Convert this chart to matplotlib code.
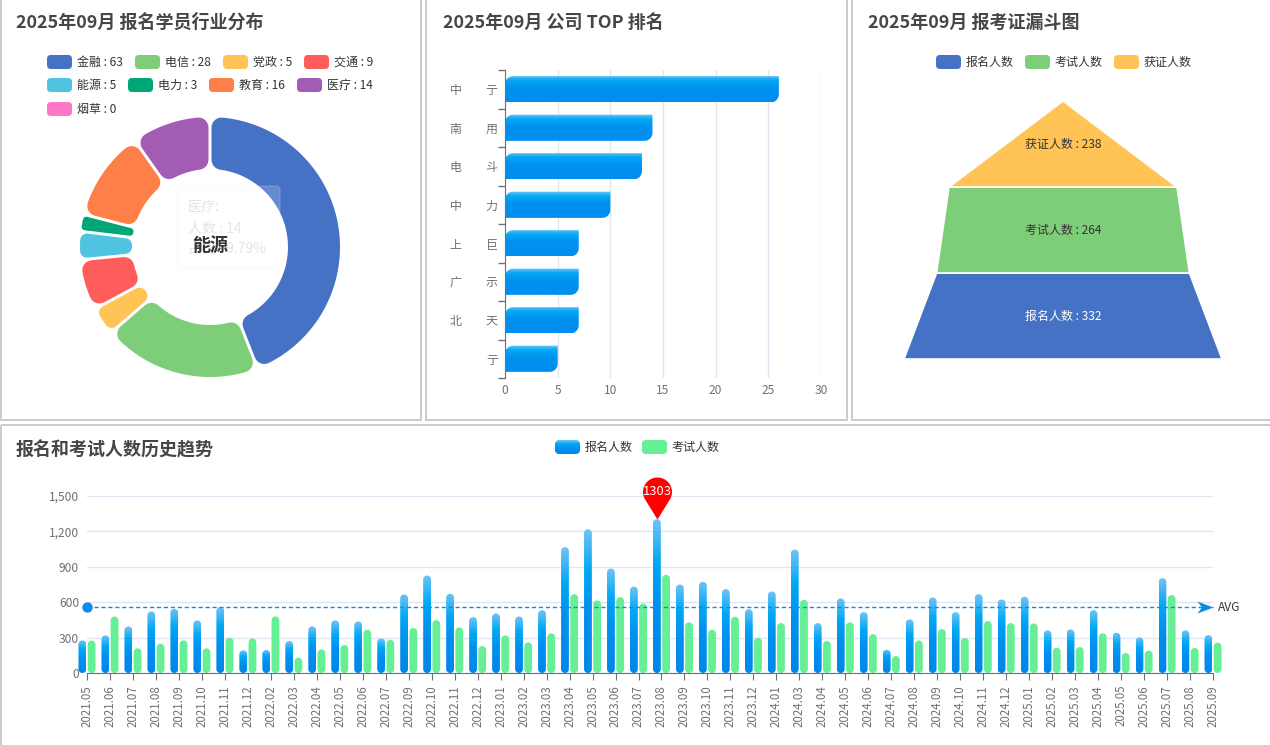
"""Dashboard: 行业分布环形图 + 公司 TOP 排名 + 报考证漏斗 + 历史趋势柱状图."""
import numpy as np
import matplotlib
matplotlib.use("Agg")
import matplotlib.pyplot as plt  # noqa: E402
from matplotlib.patches import Polygon, Rectangle, FancyBboxPatch  # noqa: E402
from matplotlib.path import Path  # noqa: E402
from matplotlib.colors import LinearSegmentedColormap  # noqa: E402
from matplotlib.ticker import FuncFormatter, MultipleLocator  # noqa: E402

plt.rcParams["font.family"] = ["Noto Sans CJK SC", "DejaVu Sans"]

# ---------------- data ----------------
INDUSTRIES = ["金融", "电信", "党政", "交通", "能源", "电力", "教育", "医疗", "烟草"]
INDUSTRY_COUNTS = [63, 28, 5, 9, 5, 3, 16, 14, 0]
INDUSTRY_COLORS = ["#4672c6", "#7ecd78", "#ffc455", "#ff5c5c", "#4ec4e0",
                   "#00a676", "#ff7f48", "#a35cb3", "#ff78c8"]

COMPANY_LABELS = ["中\u3000\u3000亍", "南\u3000\u3000用", "电\u3000\u3000斗", "中\u3000\u3000力",
                  "上\u3000\u3000巨", "广\u3000\u3000示", "北\u3000\u3000天", "亍"]
COMPANY_COUNTS = [26, 14, 13, 10, 7, 7, 7, 5]

FUNNEL_STAGES = ["报名人数", "考试人数", "获证人数"]
FUNNEL_COUNTS = [332, 264, 238]

MONTHS = ["2021.05", "2021.06", "2021.07", "2021.08", "2021.09", "2021.10", "2021.11", "2021.12",
          "2022.02", "2022.03", "2022.04", "2022.05", "2022.06", "2022.07",
          "2022.09", "2022.10", "2022.11", "2022.12",
          "2023.01", "2023.02", "2023.03", "2023.04", "2023.05", "2023.06",
          "2023.07", "2023.08", "2023.09", "2023.10", "2023.11", "2023.12",
          "2024.01", "2024.03", "2024.04", "2024.05", "2024.06", "2024.07",
          "2024.08", "2024.09", "2024.10", "2024.11", "2024.12",
          "2025.01", "2025.02", "2025.03", "2025.04", "2025.05", "2025.06",
          "2025.07", "2025.08", "2025.09"]
SIGNUPS = [276, 319, 395, 522, 544, 446, 558, 192,
           195, 271, 395, 446, 437, 293,
           666, 826, 671, 474,
           505, 479, 533, 1066, 1218, 885, 733, 1303, 750, 773, 711, 541,
           691, 1046, 423, 632, 516, 197, 454, 640, 516, 668, 623,
           646, 361, 369, 533, 341, 302, 804, 361, 321]
EXAMS = [275, 479, 209, 248, 276, 209, 299, 293,
         479, 130, 200, 237, 367, 282,
         381, 448, 386, 228,
         319, 259, 336, 668, 615, 643, 589, 832, 429, 367, 477, 299,
         423, 620, 271, 429, 330, 144, 276, 372, 296, 440, 423,
         420, 214, 220, 336, 169, 189, 660, 212, 257]

# ---------------- style ----------------
W, H, DPI = 1270, 745, 100
PT = 72 / DPI                     # points per pixel
TITLE_C = "#464646"
TEXT_C = "#333333"
AXIS_C = "#6e7079"
GRID_C = "#e0e6f1"
BORDER_C = "#cccccc"
BLUE_CMAP = LinearSegmentedColormap.from_list(
    "bluebar", [(0, "#0086ea"), (0.45, "#0091ef"), (0.72, "#00a8f5"), (1, "#70c3f6")])
HBAR_CMAP = LinearSegmentedColormap.from_list(
    "hbar", [(0, "#008def"), (0.55, "#0092ef"), (0.82, "#04a9f5"), (1, "#6ec8f8")])
GREEN = "#67ef96"
MARK_BLUE = "#0e8be9"

fig = plt.figure(figsize=(W / DPI, H / DPI), dpi=DPI)


def add_ax(x0, y0, x1, y1):
    return fig.add_axes([x0 / W, 1 - y1 / H, (x1 - x0) / W, (y1 - y0) / H])


def rrect(x0, y0, x1, y1, rx, ry, corners=(True, True, True, True), n=10):
    """Rounded rectangle points; corners = (bottom-left, bottom-right, top-right, top-left)."""
    specs = [((x0 + rx, y0 + ry), 180, 270, (x0, y0)),
             ((x1 - rx, y0 + ry), 270, 360, (x1, y0)),
             ((x1 - rx, y1 - ry), 0, 90, (x1, y1)),
             ((x0 + rx, y1 - ry), 90, 180, (x0, y1))]
    pts = []
    for on, (c, a0, a1, sq) in zip(corners, specs):
        if on:
            t = np.radians(np.linspace(a0, a1, n))
            pts += list(zip(c[0] + rx * np.cos(t), c[1] + ry * np.sin(t)))
        else:
            pts.append(sq)
    return np.array(pts)


def gradient_patch(ax, pts, extent, cmap, zorder=2):
    patch = Polygon(pts, closed=True, fc="none", ec="none", zorder=zorder, clip_on=False)
    ax.add_patch(patch)
    grad = np.linspace(0, 1, 128).reshape(-1, 1)
    im = ax.imshow(grad, extent=extent, origin="lower", cmap=cmap, aspect="auto",
                   interpolation="bilinear", zorder=zorder)
    im.set_clip_path(patch)
    im.set_clip_box(fig.bbox)
    return patch


# ---------------- background: borders, titles, legends ----------------
bg = fig.add_axes([0, 0, 1, 1])
bg.set_xlim(0, W)
bg.set_ylim(H, 0)
bg.axis("off")
for (x0, y0, x1, y1) in [(0.7, -10, 421, 420), (426, -10, 847, 420),
                         (852, -10, 1290, 420), (0.7, 425, 1290, 760)]:
    bg.add_patch(Rectangle((x0, y0), x1 - x0, y1 - y0, fill=False, ec=BORDER_C, lw=2 * PT))

title_kw = dict(fontsize=18 * PT, fontweight="bold", color=TITLE_C, va="center", ha="left")
bg.text(16, 23, "2025年09月 报名学员行业分布", **title_kw)
bg.text(443, 23, "2025年09月 公司 TOP 排名", **title_kw)
bg.text(868, 23, "2025年09月 报考证漏斗图", **title_kw)
bg.text(16, 450, "报名和考试人数历史趋势", **title_kw)


def legend_item(x, y, color, label):
    bg.add_patch(FancyBboxPatch((x, y - 7), 25, 14, boxstyle="round,pad=0,rounding_size=4",
                                fc=color, ec="none"))
    bg.text(x + 30, y, label, fontsize=12 * PT, color=TEXT_C, va="center", ha="left")


# donut legend (flowing rows)
leg_pos = [(47, 62), (135, 62), (223, 62), (304, 62),
           (47, 85), (128, 85), (209, 85), (297, 85), (47, 109)]
for (x, y), name, v, c in zip(leg_pos, INDUSTRIES, INDUSTRY_COUNTS, INDUSTRY_COLORS):
    legend_item(x, y, c, f"{name} : {v}")

# funnel legend
for x, name, c in zip([936, 1025, 1114], FUNNEL_STAGES, INDUSTRY_COLORS[:3]):
    legend_item(x, 62, c, name)

# trend legend
sw = rrect(555, 440, 580, 454, 4, 4)
gradient_patch(bg, sw, (555, 580, 454, 440), BLUE_CMAP, zorder=3)
bg.text(585, 447, "报名人数", fontsize=12 * PT, color=TEXT_C, va="center", ha="left")
bg.add_patch(FancyBboxPatch((642, 440), 25, 14, boxstyle="round,pad=0,rounding_size=4",
                            fc=GREEN, ec="none"))
bg.text(672, 447, "考试人数", fontsize=12 * PT, color=TEXT_C, va="center", ha="left")

# ---------------- donut ----------------
ax_d = add_ax(60, 97, 360, 397)
ax_d.set_xlim(-150, 150)
ax_d.set_ylim(-150, 150)
ax_d.axis("off")
R_OUT, R_IN, CORNER, GAP = 130, 78, 10, 3
total = sum(INDUSTRY_COUNTS)
cum = 0
for v, c in zip(INDUSTRY_COUNTS, INDUSTRY_COLORS):
    if v == 0:
        continue
    a_hi = np.radians(90 - 360 * cum / total)
    a_lo = np.radians(90 - 360 * (cum + v) / total)
    cum += v
    span = a_hi - a_lo
    d = CORNER
    while d > 0.5 and 2 * np.arcsin((d + GAP / 2) / (R_IN + d)) > span * 0.9:
        d -= 0.25
    h = d + GAP / 2
    ro, ri = R_OUT - d, R_IN + d
    t_o = np.linspace(a_lo + np.arcsin(h / ro), a_hi - np.arcsin(h / ro), 80)
    t_i = np.linspace(a_hi - np.arcsin(h / ri), a_lo + np.arcsin(h / ri), 40)
    pts = np.vstack([np.c_[ro * np.cos(t_o), ro * np.sin(t_o)],
                     np.c_[ri * np.cos(t_i), ri * np.sin(t_i)]])
    ax_d.add_patch(Polygon(pts, closed=True, fc=c, ec=c, lw=2 * d * PT, joinstyle="round"))

# faded tooltip left on the chart
tip_idx = INDUSTRIES.index("医疗")
ax_d.add_patch(FancyBboxPatch((-32, -21), 102, 82, boxstyle="round,pad=0,rounding_size=4",
                              fc="white", alpha=0.18, ec="#f2e4f2", lw=1, zorder=5))
tip_kw = dict(fontsize=14 * PT, color="#e4e4e4", ha="left", va="center", zorder=6)
ax_d.text(-22, 40, f"{INDUSTRIES[tip_idx]}:", **tip_kw)
ax_d.text(-22, 19, f"人数 : {INDUSTRY_COUNTS[tip_idx]}", **tip_kw)
ax_d.text(-22, -2, f"占比 : {INDUSTRY_COUNTS[tip_idx] / total * 100:.2f}%", **tip_kw)
ax_d.text(0, 1, "能源", fontsize=18 * PT, fontweight="bold", color=TEXT_C,
          ha="center", va="center", zorder=7)

# ---------------- company TOP bars ----------------
ax_b = add_ax(505, 70, 821, 378)
n = len(COMPANY_COUNTS)
ypos = np.arange(n)[::-1]
ax_b.set_xlim(0, 30)
ax_b.set_ylim(-0.5, n - 0.5)
px_x = 316 / 30
px_y = 308 / n
bh = 0.68
for y, v in zip(ypos, COMPANY_COUNTS):
    pts = rrect(0, y - bh / 2, v, y + bh / 2, 8 / px_x, 8 / px_y,
                corners=(False, True, False, True))
    gradient_patch(ax_b, pts, (0, v, y - bh / 2, y + bh / 2), HBAR_CMAP, zorder=3)
ax_b.set_xlim(0, 30)
ax_b.set_ylim(-0.5, n - 0.5)
ax_b.xaxis.set_major_locator(MultipleLocator(5))
ax_b.grid(axis="x", color=GRID_C, lw=1, zorder=0)
ax_b.set_axisbelow(True)
ax_b.set_yticks(np.arange(-0.5, n, 1))
ax_b.set_yticklabels([])
ax_b.set_yticks(ypos, minor=True)
ax_b.set_yticklabels(COMPANY_LABELS, minor=True)
ax_b.tick_params(axis="y", which="major", length=5, color=AXIS_C, width=1)
ax_b.tick_params(axis="y", which="minor", length=0, pad=7 * PT, labelsize=12 * PT,
                 labelcolor="#6e7079")
ax_b.tick_params(axis="x", length=0, pad=6 * PT, labelsize=12 * PT, labelcolor=AXIS_C)
for s in ["top", "right", "bottom"]:
    ax_b.spines[s].set_visible(False)
ax_b.spines["left"].set_color(AXIS_C)
ax_b.spines["left"].set_zorder(5)
ax_b.patch.set_alpha(0)

# ---------------- funnel ----------------
ax_f = add_ax(904, 101, 1222, 359)
fmax = max(FUNNEL_COUNTS)
ax_f.set_xlim(-fmax / 2, fmax / 2)
ax_f.set_ylim(0, len(FUNNEL_COUNTS))
ax_f.axis("off")
order = np.argsort(FUNNEL_COUNTS)[::-1]
vals = [FUNNEL_COUNTS[i] for i in order]
for k, i in enumerate(order):
    wb = vals[k]
    wt = vals[k + 1] if k + 1 < len(vals) else 0
    ax_f.add_patch(Polygon([(-wb / 2, k), (wb / 2, k), (wt / 2, k + 1), (-wt / 2, k + 1)],
                           closed=True, fc=INDUSTRY_COLORS[i], ec="white", lw=1.2))
    ax_f.text(0, k + 0.5, f"{FUNNEL_STAGES[i]} : {FUNNEL_COUNTS[i]}", fontsize=12 * PT,
              color="white" if k == 0 else TEXT_C, ha="center", va="center")

# ---------------- history trend ----------------
ax_t = add_ax(87, 496, 1213, 673)
m = len(MONTHS)
x = np.arange(m)
ppx = 1126 / (m - 1)
ppy = 177 / 1500
bw, off = 0.34, 0.2
rx = bw / 2
ry = rx * ppx / ppy
for xi, s, e in zip(x, SIGNUPS, EXAMS):
    x0 = xi - off - bw / 2
    pts = rrect(x0, 0, x0 + bw, s, rx, ry)
    gradient_patch(ax_t, pts, (x0, x0 + bw, 0, s), BLUE_CMAP, zorder=3)
    x0 = xi + off - bw / 2
    ax_t.add_patch(Polygon(rrect(x0, 0, x0 + bw, e, rx, ry), closed=True, fc=GREEN,
                           ec="none", zorder=3, clip_on=False))
ax_t.set_xlim(0, m - 1)
ax_t.set_ylim(0, 1500)

ax_t.yaxis.set_major_locator(MultipleLocator(300))
ax_t.yaxis.set_major_formatter(FuncFormatter(lambda v, _: f"{int(v):,}"))
ax_t.grid(axis="y", color=GRID_C, lw=1, zorder=0)
ax_t.set_axisbelow(True)
ax_t.set_xticks(x)
ax_t.set_xticklabels(MONTHS, rotation=90)
ax_t.tick_params(axis="x", length=5, color=AXIS_C, pad=5 * PT, labelsize=11.5 * PT,
                 labelcolor=AXIS_C)
ax_t.tick_params(axis="y", length=0, pad=8 * PT, labelsize=12 * PT, labelcolor=AXIS_C)
for s in ["top", "right", "left"]:
    ax_t.spines[s].set_visible(False)
ax_t.spines["bottom"].set_color(AXIS_C)
ax_t.spines["bottom"].set_zorder(4)
ax_t.patch.set_alpha(0)

# average mark line
avg = float(np.mean(SIGNUPS))
ax_t.plot([0, m - 1], [avg, avg], ls=(0, (3, 2)), color=MARK_BLUE, lw=1, zorder=5, clip_on=False)
ax_t.plot(0, avg, "o", ms=9 * PT, color=MARK_BLUE, zorder=6, clip_on=False)
arrow = Path([(0, 0), (-2, 0.75), (-1.45, 0), (-2, -0.75), (0, 0)],
             [Path.MOVETO, Path.LINETO, Path.LINETO, Path.LINETO, Path.CLOSEPOLY])
ax_t.plot(m - 1, avg, marker=arrow, ms=32 * PT, color=MARK_BLUE, mec="none",
          zorder=6, clip_on=False)
ax_t.annotate("AVG", (m - 1, avg), xytext=(5 * PT, 0), textcoords="offset points",
              fontsize=12 * PT, color=TEXT_C, va="center", ha="left", annotation_clip=False)

# max mark pin
imax = int(np.argmax(SIGNUPS))
phi = np.arccos(1 / 1.9)
t = np.linspace(-np.pi / 2 + phi, 3 * np.pi / 2 - phi, 60)
pin_pts = np.vstack([[0, 0], np.c_[np.cos(t), 1.9 + np.sin(t)], [0, 0]])
pin = Path(pin_pts)
ax_t.plot(imax - off, SIGNUPS[imax], marker=pin, ms=84 * PT, color="#ff0000", mec="none",
          zorder=7, clip_on=False)
ax_t.annotate(str(SIGNUPS[imax]), (imax - off, SIGNUPS[imax]),
              xytext=(0, 1.9 * 14.5 * PT), textcoords="offset points", fontsize=13 * PT,
              color="white", ha="center", va="center", zorder=8, annotation_clip=False)

fig.savefig("out.png", dpi=DPI)
